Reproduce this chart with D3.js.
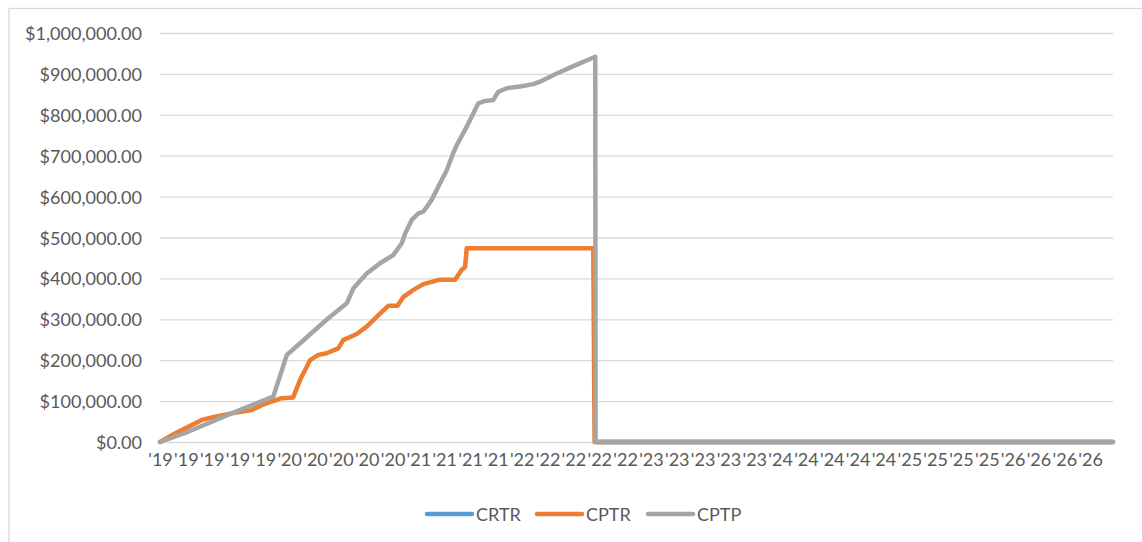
<!DOCTYPE html>
<html>
<head>
<meta charset="utf-8">
<script src="https://cdn.jsdelivr.net/npm/d3@7"></script>
<style>
  html, body { margin: 0; padding: 0; background: #ffffff; }
  svg { display: block; }
</style>
</head>
<body>
<svg id="chart" width="1142" height="542"></svg>
<script>
// ---------------- DATA ----------------
// x values are days since the first date on the axis; labels are placed every 78 days
const seriesNames = ["CRTR", "CPTR", "CPTP"];
const xLabels = ["'19","'19","'19","'19","'19","'20","'20","'20","'20","'20",
                 "'21","'21","'21","'21","'22","'22","'22","'22","'22",
                 "'23","'23","'23","'23","'23","'24","'24","'24","'24","'24",
                 "'25","'25","'25","'25","'26","'26","'26","'26"];
const labelStepDays = 78;
const lastDay = 2877;
const yTicks = [0, 100000, 200000, 300000, 400000, 500000, 600000, 700000, 800000, 900000, 1000000];

const crtrDays   = [1315, 2877];
const crtrValues = [0, 0];

const cptrDays   = [0, 45, 85, 126, 166, 216, 277, 307, 337, 367, 402, 423, 453, 478, 503, 538, 553, 594, 624, 654, 689, 717, 735, 765, 795, 845, 891, 911, 921, 926, 1308, 1312, 2877];
const cptrValues = [0, 21000, 37000, 54000, 62000, 70000, 78000, 90000, 99000, 107000, 109000, 152000, 200000, 213000, 217000, 229000, 249000, 264000, 282000, 306000, 333000, 333000, 355000, 372000, 386000, 397000, 397000, 421000, 428000, 474000, 474000, 0, 0];

const cptpDays   = [0, 85, 216, 287, 342, 383, 417, 507, 564, 584, 624, 664, 704, 730, 740, 760, 780, 795, 820, 840, 866, 885, 896, 926, 946, 961, 981, 1006, 1021, 1047, 1087, 1127, 1147, 1198, 1248, 1314, 1315, 2877];
const cptpValues = [0, 25000, 70000, 93000, 111000, 213000, 237000, 302000, 339000, 376000, 412000, 437000, 457000, 486000, 510000, 543000, 559000, 563000, 592000, 624000, 665000, 706000, 726000, 771000, 804000, 828000, 834000, 836000, 856000, 865000, 869000, 875000, 881000, 901000, 919000, 942000, 0, 0];

const colors = { CRTR: "#5B9BD5", CPTR: "#ED7D31", CPTP: "#A5A5A5" };

// ---------------- LAYOUT ----------------
const svg = d3.select("#chart");
const plot = { left: 160, right: 1113, top: 33, bottom: 442 };
const textColor = "#595959";
const fontFamily = "Lato, 'Open Sans', sans-serif";

// fit the font size so the widest y label has the width it has in the reference
const probe = svg.append("text").attr("font-family", fontFamily).attr("font-size", 100).text("$1,000,000.00");
const probeW = probe.node().getComputedTextLength();
probe.remove();
const fs = Math.max(12, Math.min(22, 117 / probeW * 100));

// chart border
svg.append("rect")
  .attr("x", 9).attr("y", 8.5).attr("width", 1145).attr("height", 545)
  .attr("fill", "#ffffff").attr("stroke", "#D9D9D9").attr("stroke-width", 1.3);

const x = d3.scaleLinear().domain([0, lastDay]).range([plot.left, plot.right]);
const y = d3.scaleLinear().domain([0, 1000000]).range([plot.bottom, plot.top]);

// gridlines + y labels
const yAxis = d3.axisLeft(y).tickValues(yTicks)
  .tickSize(-(plot.right - plot.left)).tickPadding(18)
  .tickFormat(d => "$" + d3.format(",.2f")(d));
const gy = svg.append("g").attr("transform", `translate(${plot.left},0)`).call(yAxis);
gy.select(".domain").remove();
gy.selectAll(".tick line").attr("stroke", "#D9D9D9").attr("stroke-width", 1.3);
gy.selectAll(".tick text")
  .attr("fill", textColor).attr("font-family", fontFamily).attr("font-size", fs)
  .attr("dy", "0.36em");

// x labels
const xTickVals = xLabels.map((_, i) => i * labelStepDays);
const xAxis = d3.axisBottom(x).tickValues(xTickVals).tickSize(0).tickPadding(11)
  .tickFormat((d, i) => xLabels[i]);
const gx = svg.append("g").attr("transform", `translate(0,${plot.bottom})`).call(xAxis);
gx.select(".domain").remove();
gx.selectAll(".tick text")
  .attr("fill", textColor).attr("font-family", fontFamily).attr("font-size", fs);

// lines
const line = d3.line().x(d => x(d[0])).y(d => y(d[1]));
const seriesData = {
  CRTR: d3.zip(crtrDays, crtrValues),
  CPTR: d3.zip(cptrDays, cptrValues),
  CPTP: d3.zip(cptpDays, cptpValues)
};
seriesNames.forEach(name => {
  svg.append("path")
    .datum(seriesData[name])
    .attr("d", line)
    .attr("fill", "none")
    .attr("stroke", colors[name])
    .attr("stroke-width", 4.5)
    .attr("stroke-linejoin", "round")
    .attr("stroke-linecap", "round");
});

// legend
const legendX = [427, 537, 648];
const legY = 514;
seriesNames.forEach((name, i) => {
  const g = svg.append("g").attr("transform", `translate(${legendX[i]},${legY})`);
  g.append("line").attr("x1", 0).attr("x2", 45).attr("y1", 0).attr("y2", 0)
    .attr("stroke", colors[name]).attr("stroke-width", 4.5).attr("stroke-linecap", "round");
  g.append("text").attr("x", 49).attr("y", 0).attr("dy", "0.36em")
    .attr("fill", textColor).attr("font-family", fontFamily).attr("font-size", fs)
    .text(name);
});
</script>
</body>
</html>
